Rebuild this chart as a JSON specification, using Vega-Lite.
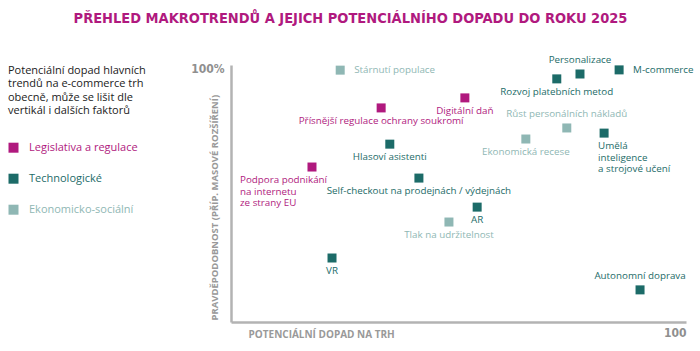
{
  "$schema": "https://vega.github.io/schema/vega-lite/v6.json",
  "autosize": "none",
  "padding": {"left": 231, "top": 65, "right": 14, "bottom": 29},
  "width": 455,
  "height": 257,
  "background": "white",
  "title": {
    "text": "PŘEHLED MAKROTRENDŮ A JEJICH POTENCIÁLNÍHO DOPADU DO ROKU 2025",
    "font": "DejaVu Sans Condensed, Liberation Sans Narrow, sans-serif",
    "fontSize": 14.5,
    "fontWeight": "bold",
    "color": "#b0197e",
    "anchor": "middle",
    "frame": "group",
    "dx": -108,
    "offset": 28
  },
  "data": {
    "values": [
      {"name": "Stárnutí populace", "cat": "Ekonomicko-sociální", "x": 24.0, "y": 98.0},
      {"name": "Přísnější regulace ochrany soukromí", "cat": "Legislativa a regulace", "x": 33.0, "y": 83.3},
      {"name": "Digitální daň", "cat": "Legislativa a regulace", "x": 51.4, "y": 87.2},
      {"name": "Personalizace", "cat": "Technologické", "x": 76.7, "y": 96.5},
      {"name": "Rozvoj platebních metod", "cat": "Technologické", "x": 71.6, "y": 94.6},
      {"name": "M-commerce", "cat": "Technologické", "x": 85.3, "y": 98.1},
      {"name": "Růst personálních nákladů", "cat": "Ekonomicko-sociální", "x": 73.8, "y": 75.5},
      {"name": "Ekonomická recese", "cat": "Ekonomicko-sociální", "x": 64.8, "y": 71.2},
      {"name": "Umělá\ninteligence\na strojové učení", "cat": "Technologické", "x": 82.0, "y": 73.5},
      {"name": "Hlasoví asistenti", "cat": "Technologické", "x": 34.9, "y": 69.2},
      {"name": "Podpora podnikání\nna internetu\nze strany EU", "cat": "Legislativa a regulace", "x": 17.8, "y": 60.3},
      {"name": "Self-checkout na prodejnách / výdejnách", "cat": "Technologické", "x": 41.3, "y": 56.0},
      {"name": "AR", "cat": "Technologické", "x": 54.1, "y": 44.7},
      {"name": "Tlak na udržitelnost", "cat": "Ekonomicko-sociální", "x": 47.9, "y": 38.9},
      {"name": "VR", "cat": "Technologické", "x": 22.2, "y": 24.9},
      {"name": "Autonomní doprava", "cat": "Technologické", "x": 89.9, "y": 12.5}
    ]
  },
  "encoding": {
    "x": {
      "field": "x", "type": "quantitative",
      "scale": {"domain": [0, 100], "nice": false},
      "axis": {
        "values": [100], "labelExpr": "'100'", "grid": false, "ticks": false,
        "domainColor": "#b3b3b3", "domainWidth": 2.5,
        "labelAlign": "right", "labelBaseline": "top", "labelPadding": 5,
        "labelColor": "#8f8f8f", "labelFontSize": 12, "labelFontWeight": "bold",
        "labelFont": "DejaVu Sans Condensed, Liberation Sans Narrow, sans-serif",
        "title": "POTENCIÁLNÍ DOPAD NA TRH",
        "titleX": 17, "titleY": 12, "titleAlign": "left", "titleBaseline": "middle",
        "titleColor": "#999999", "titleFontSize": 10, "titleFontWeight": "bold",
        "titleFont": "Open Sans"
      }
    },
    "y": {
      "field": "y", "type": "quantitative",
      "scale": {"domain": [0, 100], "nice": false},
      "axis": {
        "values": [100], "labelExpr": "'100%'", "grid": false, "ticks": false,
        "domainColor": "#b3b3b3", "domainWidth": 2.5,
        "labelPadding": 7, "labelOffset": 3, "labelBaseline": "middle",
        "labelColor": "#8f8f8f", "labelFontSize": 12, "labelFontWeight": "bold",
        "labelFont": "DejaVu Sans Condensed, Liberation Sans Narrow, sans-serif",
        "title": "PRAVDĚPODOBNOST (PŘÍP. MASOVÉ ROZŠÍŘENÍ)",
        "titleX": -17, "titleY": 255, "titleAngle": -90, "titleAlign": "left", "titleBaseline": "middle",
        "titleColor": "#999999", "titleFontSize": 9.5, "titleFontWeight": "bold",
        "titleFont": "Open Sans"
      }
    },
    "color": {
      "field": "cat", "type": "nominal",
      "scale": {
        "domain": ["Legislativa a regulace", "Technologické", "Ekonomicko-sociální"],
        "range": ["#b0197e", "#1c6b68", "#8fb7b4"]
      },
      "legend": null
    }
  },
  "layer": [
    {
      "mark": {"type": "point", "shape": "square", "filled": true, "size": 81, "opacity": 1},
      "encoding": {
        "color": {
          "field": "cat", "type": "nominal",
          "legend": {
            "orient": "none", "legendX": -223, "legendY": 0,
            "title": ["Potenciální dopad hlavních", "trendů na e-commerce trh", "obecně, může se lišit dle", "vertikál i dalších faktorů"],
            "titleFont": "Open Sans", "titleFontSize": 11, "titleFontWeight": "normal",
            "titleColor": "#222222", "titleLineHeight": 13.4, "titleBaseline": "top",
            "titlePadding": 26, "rowPadding": 19,
            "symbolType": "square", "symbolSize": 100, "symbolStrokeWidth": 0, "symbolOpacity": 1,
            "labelFont": "Open Sans", "labelFontSize": 11, "labelOffset": 10,
            "padding": 0,
            "encode": {"labels": {"update": {"fill": {"scale": "color", "field": "value"}}}}
          }
        }
      }
    },
    {
      "transform": [{"filter": {"field": "name", "oneOf": ["Přísnější regulace ochrany soukromí", "Digitální daň", "Rozvoj platebních metod", "Ekonomická recese", "Hlasoví asistenti", "Self-checkout na prodejnách / výdejnách", "AR", "Tlak na udržitelnost", "VR"]}}],
      "mark": {"type": "text", "align": "center", "baseline": "top", "dy": 8, "font": "Open Sans", "fontSize": 9.8, "lineBreak": "\n"},
      "encoding": {"text": {"field": "name"}}
    },
    {
      "transform": [{"filter": {"field": "name", "oneOf": ["Personalizace", "Růst personálních nákladů", "Autonomní doprava"]}}],
      "mark": {"type": "text", "align": "center", "baseline": "bottom", "dy": -9, "font": "Open Sans", "fontSize": 9.8, "lineBreak": "\n"},
      "encoding": {"text": {"field": "name"}}
    },
    {
      "transform": [{"filter": {"field": "name", "oneOf": ["Stárnutí populace", "M-commerce"]}}],
      "mark": {"type": "text", "align": "left", "baseline": "middle", "dx": 14, "font": "Open Sans", "fontSize": 9.8, "lineBreak": "\n"},
      "encoding": {"text": {"field": "name"}}
    },
    {
      "transform": [{"filter": "indexof(datum.name, 'Podpora') == 0"}],
      "mark": {"type": "text", "align": "left", "baseline": "top", "dx": -72, "dy": 8, "font": "Open Sans", "fontSize": 9.8, "lineHeight": 11.5, "lineBreak": "\n"},
      "encoding": {"text": {"field": "name"}}
    },
    {
      "transform": [{"filter": "indexof(datum.name, 'Umělá') == 0"}],
      "mark": {"type": "text", "align": "left", "baseline": "top", "dx": -6, "dy": 8, "font": "Open Sans", "fontSize": 9.8, "lineHeight": 11.5, "lineBreak": "\n"},
      "encoding": {"text": {"field": "name"}}
    }
  ],
  "config": {
    "view": {"stroke": null}
  }
}
